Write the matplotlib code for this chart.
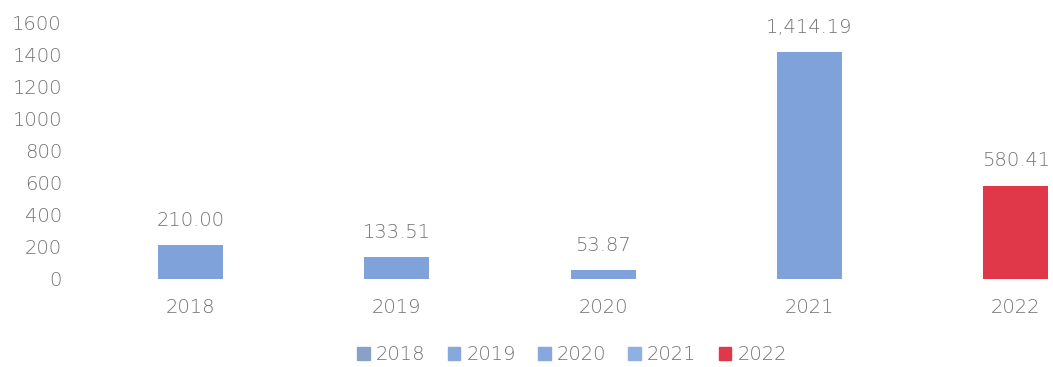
import matplotlib.pyplot as plt
from matplotlib.patches import Patch

years = ["2018", "2019", "2020", "2021", "2022"]
values = [210.00, 133.51, 53.87, 1414.19, 580.41]
bar_colors = ["#7fa2da", "#7fa2da", "#7fa2da", "#7fa2da", "#e03848"]
legend_colors = ["#8aa0c8", "#86a8dc", "#86a8dc", "#8fb0e0", "#e03848"]
yticks = [0, 200, 400, 600, 800, 1000, 1200, 1400, 1600]

text_color = "#727272"
plt.rcParams["font.family"] = ["DejaVu Sans"]
plt.rcParams["font.weight"] = "light"

fig = plt.figure(figsize=(10.53, 3.67), dpi=100)
ax = fig.add_axes([87 / 1053, 0.24, (1053 - 87) / 1053, 0.70])

x = range(len(years))
bars = ax.bar(x, values, width=0.315, color=bar_colors)
ax.bar_label(bars, labels=[f"{v:,.2f}" for v in values], padding=11,
             fontsize=14, color=text_color)

ax.set_xlim(-0.5, 4.18)
ax.set_ylim(0, 1600)
ax.set_yticks(yticks)
ax.set_xticks(list(x))
ax.set_xticklabels(years)
ax.tick_params(axis="both", length=0, labelsize=14, labelcolor=text_color)
ax.tick_params(axis="y", pad=18)
ax.tick_params(axis="x", pad=14)
for s in ax.spines.values():
    s.set_visible(False)

handles = [Patch(color=c, label=y) for c, y in zip(legend_colors, years)]
leg = fig.legend(handles=handles, loc="center", bbox_to_anchor=(572 / 1053, 1 - 355 / 367),
                 ncol=5, frameon=False, handlelength=0.65, handleheight=0.65,
                 handletextpad=0.3, columnspacing=1.15, fontsize=14)
for t in leg.get_texts():
    t.set_color(text_color)

fig.savefig("out.png", dpi=100)
